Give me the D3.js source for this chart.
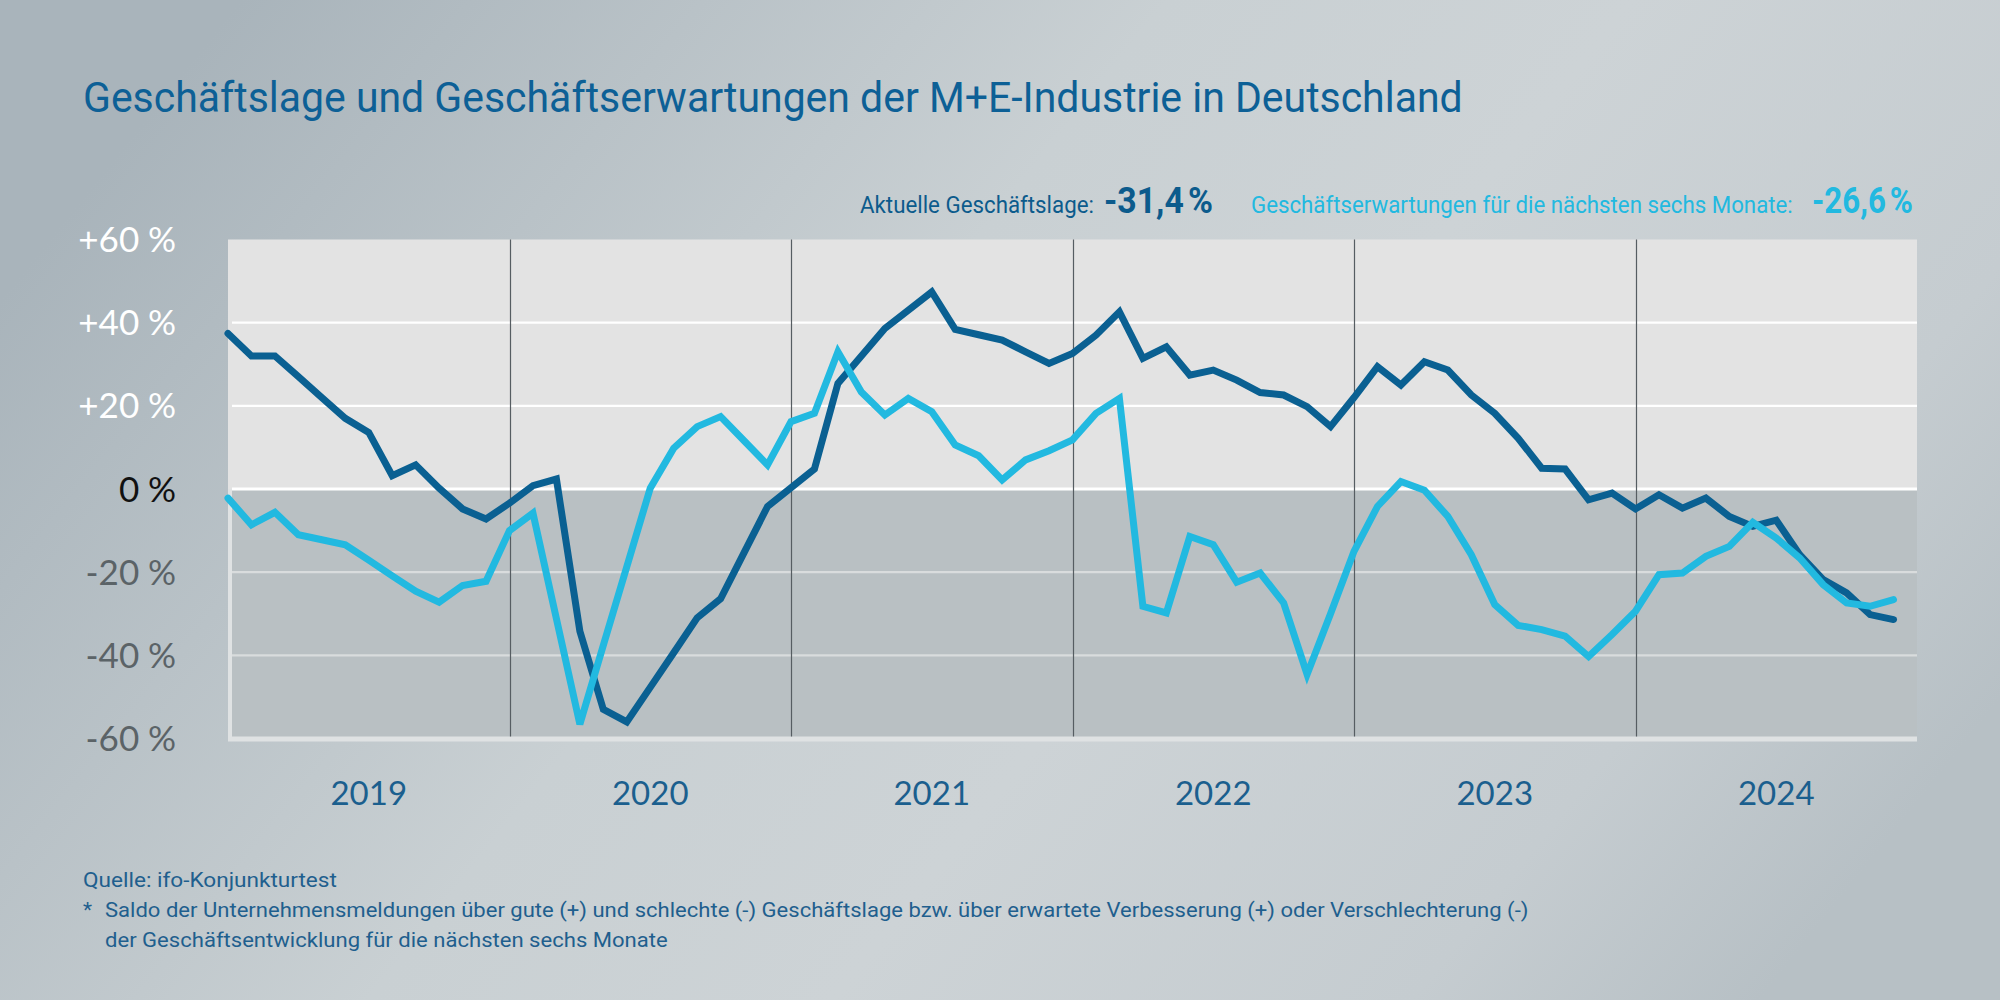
<!DOCTYPE html>
<html><head><meta charset="utf-8">
<script src="https://cdn.jsdelivr.net/npm/d3@7"></script>
<style>html,body{margin:0;padding:0;overflow:hidden;background:#c4cbcf}svg{display:block}</style>
</head><body>
<script>
// ---- data ----
const years = ["2019","2020","2021","2022","2023","2024"];
const monthsPerYear = 12;
const geschaeftslage = [
 37.4, 32, 32, 27, 22, 17, 13.6, 3.2, 5.8, 0.2, -4.8, -7.2,
 -3.4, 0.8, 2.4, -34.2, -53, -56, -47.7, -39.4, -31, -26.4, -15.3, -4.2,
 0.3, 4.8, 25.4, 32, 38.6, 43, 47.4, 38.4, 37.1, 35.8, 33, 30.2,
 32.6, 37, 42.6, 31.4, 34.2, 27.4, 28.6, 26.2, 23.2, 22.6, 19.8, 15,
 22, 29.4, 25, 30.6, 28.6, 22.6, 18.2, 12.2, 5, 4.8, -2.6, -1,
 -4.8, -1.4, -4.6, -2.2, -6.6, -9, -7.5, -15.8, -21.8, -25, -30.2, -31.4];
const erwartungen = [
 -2.2, -8.6, -5.6, -11, -12.2, -13.4, -17.1, -20.9, -24.6, -27.2, -23.2, -22.2,
 -10, -5.8, -31.2, -56.6, -37.6, -18.7, 0.2, 9.8, 15, 17.4, 11.6, 5.8,
 16.2, 18.2, 33, 23.3, 17.8, 21.8, 18.6, 10.6, 8, 2.2, 7, 9.2,
 11.8, 18.2, 21.8, -28.2, -29.8, -11.4, -13.4, -22.4, -20.2, -27.4, -44.6, -30,
 -15, -4.2, 1.8, -0.3, -6.6, -15.8, -27.8, -32.8, -33.8, -35.4, -40.3, -35,
 -29.4, -20.6, -20.2, -16.2, -13.8, -8, -11.8, -16.6, -23, -27.4, -28.2, -26.6];
const yTicks = [60, 40, 20, 0, -20, -40, -60];
const yTickLabels = ["+60\u202F%", "+40\u202F%", "+20\u202F%", "0\u202F%", "-20\u202F%", "-40\u202F%", "-60\u202F%"];
const title = "Geschäftslage und Geschäftserwartungen der M+E-Industrie in Deutschland";
const legendLage = "Aktuelle Geschäftslage:";
const legendLageValue = "-31,4\u202F%";
const legendErw = "Geschäftserwartungen für die nächsten sechs Monate:";
const legendErwValue = "-26,6\u202F%";
const footer = ["Quelle: ifo-Konjunkturtest",
 "Saldo der Unternehmensmeldungen über gute (+) und schlechte (-) Geschäftslage bzw. über erwartete Verbesserung (+) oder Verschlechterung (-)",
 "der Geschäftsentwicklung für die nächsten sechs Monate"];

// ---- layout ----
const W = 2000, H = 1000;
const L = 228, R = 1917, T = 239.5, B = 738.5;
const nMonths = years.length * monthsPerYear;
const cDark = "#0a6092", cLight = "#22b9e0", cText = "#0c5b8c";
const narrow = "Roboto,'Liberation Sans',sans-serif";
const geo = "Lato,'Open Sans',sans-serif";

const svg = d3.select("body").append("svg").attr("width", W).attr("height", H);
const defs = svg.append("defs");
const g1 = defs.append("linearGradient").attr("id","bg").attr("x1","0").attr("y1","0.3").attr("x2","1").attr("y2","0.7");
[["0%","#a9b4bb"],["40%","#c9d0d3"],["60%","#cdd3d6"],["85%","#c5ccd0"],["100%","#b7c0c5"]]
 .forEach(([o,c])=>g1.append("stop").attr("offset",o).attr("stop-color",c));
svg.append("rect").attr("width",W).attr("height",H).attr("fill","url(#bg)");

const x = d3.scaleLinear().domain([0, nMonths]).range([L, R]);
const y = d3.scaleLinear().domain([-60, 60]).range([B, T]);

// plot background
svg.append("rect").attr("x", L).attr("y", T).attr("width", R - L).attr("height", y(0) - T).attr("fill", "#e3e3e3");
svg.append("rect").attr("x", L).attr("y", y(0)).attr("width", R - L).attr("height", B + 3 - y(0)).attr("fill", "#dfe2e3");
svg.append("rect").attr("x", L + 4).attr("y", y(0)).attr("width", R - L - 4).attr("height", B - 2 - y(0)).attr("fill", "#b9c0c3");

// gridlines
svg.append("g").selectAll("line").data(yTicks.filter(d => d > -60 && d < 60)).join("line")
  .attr("x1", L + 4).attr("x2", R).attr("y1", d => y(d)).attr("y2", d => y(d))
  .attr("stroke", d => d >= 0 ? "#ffffff" : "#d9dcdd").attr("stroke-width", d => d === 0 ? 3 : 2.2);

// year dividers
svg.append("g").selectAll("line").data(years.slice(1)).join("line")
  .attr("x1", (d, i) => Math.round(x((i + 1) * monthsPerYear)) + 0.5)
  .attr("x2", (d, i) => Math.round(x((i + 1) * monthsPerYear)) + 0.5)
  .attr("y1", T).attr("y2", B - 2)
  .attr("stroke", "#565d62").attr("stroke-width", 1.2);

// y labels
svg.append("g").selectAll("text").data(yTicks).join("text")
  .attr("x", 176).attr("y", d => y(d)).attr("dy", "0.36em")
  .attr("text-anchor", "end").attr("font-family", geo).attr("font-size", 35)
  .attr("fill", d => d > 0 ? "#ffffff" : (d === 0 ? "#111111" : "#5b6367"))
  .text((d, i) => yTickLabels[i]);

// x labels
svg.append("g").selectAll("text").data(years).join("text")
  .attr("x", (d, i) => x(i * monthsPerYear + monthsPerYear / 2)).attr("y", 805)
  .attr("text-anchor", "middle").attr("font-family", geo).attr("font-size", 33)
  .attr("fill", "#1b5f8e").text(d => d);

// lines
const line = d3.line().x((d, i) => x(i)).y(d => y(d));
[[geschaeftslage, cDark], [erwartungen, cLight]].forEach(([data, col]) => {
  svg.append("path").datum(data).attr("d", line).attr("fill", "none")
    .attr("stroke", col).attr("stroke-width", 7)
    .attr("stroke-linejoin", "miter").attr("stroke-miterlimit", 3).attr("stroke-linecap", "round");
});

// condensed text: horizontally scaled to a target width
function fitText(xPos, yPos, size, len, txt, fill, weight) {
  const t = svg.append("text").attr("x", 0).attr("y", 0).attr("font-family", narrow)
    .attr("font-size", size).attr("font-weight", weight || "normal").attr("fill", fill).text(txt);
  const natural = t.node().getComputedTextLength();
  t.attr("transform", `translate(${xPos},${yPos}) scale(${len / natural},1)`);
  return t;
}

// title
fitText(83, 112, 43, 1380, title, "#0d6096");

// legend
fitText(860, 213, 24, 234, legendLage, cText);
fitText(1104, 213, 37, 109, legendLageValue, cText, "bold");
fitText(1251, 213, 24, 542, legendErw, cLight);
fitText(1812, 213, 37, 101, legendErwValue, cLight, "bold");

// footer
const fc = "#1f5f8e";
fitText(83, 887, 21, 254, footer[0], fc);
svg.append("text").attr("x", 83).attr("y", 917).attr("font-family", narrow).attr("font-size", 21).attr("fill", fc).text("*");
fitText(105, 917, 21, 1425, footer[1], fc);
fitText(105, 947, 21, 563, footer[2], fc);
</script>
</body></html>
